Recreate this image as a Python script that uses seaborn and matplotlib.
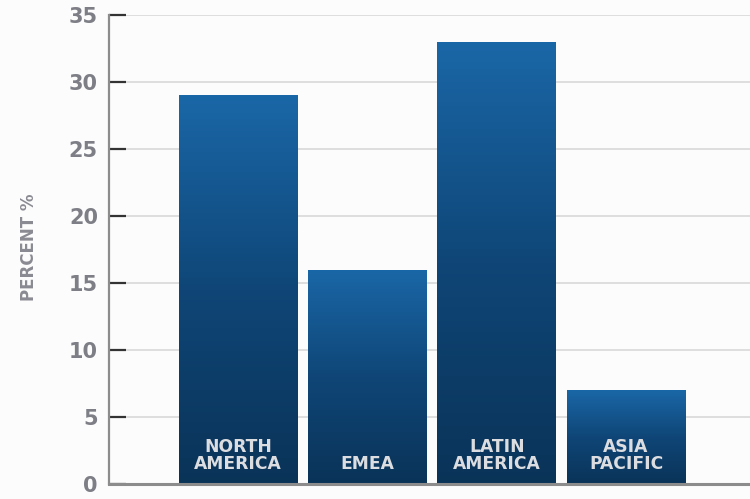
import numpy as np
import pandas as pd
import matplotlib
matplotlib.use("Agg")
import matplotlib.pyplot as plt
import seaborn as sns
from matplotlib.colors import LinearSegmentedColormap

regions = ["NORTH\nAMERICA", "EMEA", "LATIN\nAMERICA", "ASIA\nPACIFIC"]
percent = [29, 16, 33, 7]
yticks = [0, 5, 10, 15, 20, 25, 30, 35]

df = pd.DataFrame({"region": regions, "percent": percent})

sns.set_theme(style="white")
plt.rcParams['font.family'] = ['DejaVu Sans']

fig = plt.figure(figsize=(7.5, 4.99), dpi=100, facecolor="#fcfcfc")
ax = fig.add_axes([109/750, 15/499, 1 - 109/750 + 0.002, 469/499])
ax.set_facecolor("#fcfcfc")

sns.barplot(data=df, x="region", y="percent", ax=ax, width=0.92,
            color="#145c99", saturation=1, zorder=3)

ax.set_xlim(-1.0, 3.97)
ax.set_ylim(0, 35)
ax.set_yticks(yticks)
ax.yaxis.grid(True, color="#d9d9d9", linewidth=1.2, zorder=0)
ax.xaxis.grid(False)
ax.set_axisbelow(True)

cmap = LinearSegmentedColormap.from_list("bar", ["#0a3358", "#0f4677", "#1a67a7"])
grad = np.linspace(0, 1, 256).reshape(-1, 1)
for p in ax.patches:
    x0, y0 = p.get_x(), p.get_y()
    w, h = p.get_width(), p.get_height()
    p.set_facecolor("none")
    p.set_edgecolor("none")
    im = ax.imshow(grad, extent=[x0, x0 + w, y0, y0 + h], origin="lower",
                   cmap=cmap, aspect="auto", zorder=3)
    im.set_clip_path(p)

ax.set_xlim(-1.0, 3.97)
ax.set_ylim(0, 35)

for i, lab in enumerate(regions):
    ax.text(i, 0.8, lab, ha="center", va="bottom", color="#dcdde0",
            fontsize=12.3, fontweight="bold", linespacing=0.95, zorder=5)

ax.set_xticks([])
ax.set_xlabel("")
ax.set_ylabel("PERCENT %", fontsize=12, fontweight="bold", color="#8a8a92")
ax.yaxis.set_label_coords(-71/643, 0.505)

ax.tick_params(axis="y", direction="in", length=12, width=1.6, color="#333333",
               labelsize=15, labelcolor="#7d7e86", pad=8, left=True)
for t in ax.get_yticklabels():
    t.set_fontweight("bold")

for s in ["top", "right"]:
    ax.spines[s].set_visible(False)
ax.spines["left"].set_color("#8c8c8c")
ax.spines["left"].set_linewidth(1.6)
ax.spines["bottom"].set_color("#8c8c8c")
ax.spines["bottom"].set_linewidth(2.2)
ax.spines["left"].set_zorder(6)
ax.spines["bottom"].set_zorder(6)

fig.savefig("out.png", dpi=100, facecolor=fig.get_facecolor())
